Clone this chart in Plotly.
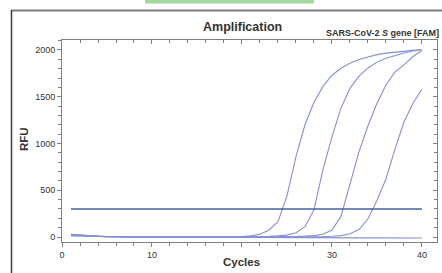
import plotly.graph_objects as go

cycles = list(range(1, 41))

curve_a = [28, 20, 13, 8, 5, 3, 2, 1, 0, -1, -2, -2, -3, -3, -2, -2, -1, 0, 2, 5,
           12, 30, 75, 165, 440, 860, 1200, 1440, 1610, 1730, 1805, 1858, 1898, 1928, 1950, 1966, 1978, 1988, 1996, 2005]
curve_b = [22, 16, 11, 7, 4, 2, 1, 0, -1, -2, -2, -3, -3, -2, -2, -1, -1, 0, 0, 1,
           2, 4, 7, 12, 20, 45, 110, 290, 720, 1070, 1380, 1590, 1720, 1808, 1870, 1912, 1944, 1968, 1988, 2005]
curve_c = [18, 13, 9, 6, 3, 1, 0, -1, -1, -2, -2, -2, -3, -3, -2, -2, -1, -1, 0, 0,
           1, 1, 2, 3, 4, 6, 9, 15, 30, 75, 220, 570, 910, 1190, 1430, 1625, 1765, 1840, 1930, 1995]
curve_d = [25, 18, 12, 7, 4, 2, 1, 0, -1, -2, -3, -3, -4, -4, -3, -3, -2, -2, -1, -1,
           0, 0, 1, 1, 2, 2, 3, 3, 5, 8, 15, 35, 80, 195, 390, 620, 940, 1230, 1430, 1580]
curve_neg = [12, 9, 6, 4, 2, 1, 0, -1, -2, -2, -3, -3, -3, -2, -2, -1, -1, -2, -2, -3,
             -3, -4, -4, -5, -5, -6, -6, -7, -7, -8, -8, -8, -9, -9, -9, -10, -10, -10, -10, -10]
threshold = 300

x_ticks = [0, 10, 20, 30, 40]
x_tick_text = ["0", "10", "", "30", "40"]
y_ticks = [0, 500, 1000, 1500, 2000]
y_tick_text = ["0", "500", "1000", "1500", "2000"]

title_text = "<b>Amplification</b>"
subtitle_text = "<b>SARS-CoV-2 <i>S</i> gene [FAM]</b>"
x_title = "<b>Cycles</b>"
y_title = "<b>RFU</b>"

# ---- geometry (pixels) ----
W, H = 442, 273
ML, MR, MT, MB = 62, 5, 40, 31
PW, PH = W - ML - MR, H - MT - MB


def px(x):
    return (x - ML) / PW


def py(y):
    return (H - MB - y) / PH


X_RANGE = [0, 41.67]
Y_RANGE = [-53.5, 2106.5]
x_minor = [v for v in range(0, 42, 2) if v % 10]
y_minor = [v for v in range(0, 2101, 100) if v % 500]

curve_color = "#8690d6"
axis_color = "#808080"
font_family = "Liberation Sans, Arial, sans-serif"

fig = go.Figure()
for vals in [curve_neg, curve_d, curve_c, curve_b, curve_a]:
    fig.add_trace(go.Scatter(x=cycles, y=vals, mode="lines",
                             line=dict(color=curve_color, width=1.1),
                             showlegend=False, hoverinfo="skip"))

fig.add_trace(go.Scatter(x=[cycles[0], cycles[-1]], y=[threshold, threshold],
                         mode="lines", line=dict(color="#45609f", width=1.5),
                         xaxis="x2", yaxis="y2", showlegend=False, hoverinfo="skip"))

tick_font = dict(family=font_family, size=9, color="#333333")

fig.update_layout(
    width=W, height=H,
    margin=dict(l=ML, r=MR, t=MT, b=MB, pad=0),
    paper_bgcolor="white", plot_bgcolor="white",
    font=dict(family=font_family),
    xaxis=dict(range=X_RANGE, tickmode="array", tickvals=x_ticks, ticktext=x_tick_text,
               ticks="outside", ticklen=4, tickcolor=axis_color, tickwidth=1,
               minor=dict(ticks="outside", tickmode="array", tickvals=x_minor, ticklen=3,
                          tickcolor=axis_color, tickwidth=1),
               showline=True, linecolor=axis_color, linewidth=1,
               showgrid=False, zeroline=False, tickfont=tick_font),
    yaxis=dict(range=Y_RANGE, tickmode="array", tickvals=y_ticks, ticktext=y_tick_text,
               ticks="outside", ticklen=4, tickcolor=axis_color, tickwidth=1,
               minor=dict(ticks="outside", tickmode="array", tickvals=y_minor, ticklen=3,
                          tickcolor=axis_color, tickwidth=1),
               showline=True, linecolor=axis_color, linewidth=1,
               showgrid=False, zeroline=False, tickfont=tick_font),
    xaxis2=dict(range=X_RANGE, overlaying="x", side="top", tickmode="array", tickvals=x_ticks,
                ticks="inside", ticklen=4, tickcolor=axis_color,
                minor=dict(ticks="inside", tickmode="array", tickvals=x_minor, ticklen=3,
                           tickcolor=axis_color, tickwidth=1),
                showline=True, linecolor=axis_color, linewidth=1,
                showticklabels=False, showgrid=False, zeroline=False),
    yaxis2=dict(range=Y_RANGE, overlaying="y", side="right", tickmode="array", tickvals=y_ticks,
                ticks="inside", ticklen=4, tickcolor=axis_color,
                minor=dict(ticks="inside", tickmode="array", tickvals=y_minor, ticklen=3,
                           tickcolor=axis_color, tickwidth=1),
                showline=True, linecolor=axis_color, linewidth=1,
                showticklabels=False, showgrid=False, zeroline=False),
    shapes=[
        dict(type="rect", xref="paper", yref="paper",
             x0=px(145), x1=px(314), y0=py(-2), y1=py(3.5),
             fillcolor="#a3d8a0", line=dict(width=0), layer="above"),
        dict(type="line", xref="paper", yref="paper",
             x0=px(11), x1=px(450), y0=py(10.5), y1=py(10.5),
             line=dict(color="#7c7c88", width=2)),
        dict(type="line", xref="paper", yref="paper",
             x0=px(11.5), x1=px(11.5), y0=py(10), y1=py(280),
             line=dict(color="#3a3a48", width=1.5)),
    ],
    annotations=[
        dict(text=title_text, xref="paper", yref="paper", x=px(242), y=py(27),
             xanchor="center", yanchor="middle", showarrow=False,
             font=dict(family=font_family, size=12.5, color="#333333")),
        dict(text=subtitle_text, xref="paper", yref="paper", x=px(441), y=py(33),
             xanchor="right", yanchor="middle", showarrow=False,
             font=dict(family=font_family, size=9, color="#333333")),
        dict(text=x_title, xref="paper", yref="paper", x=px(241), y=py(262),
             xanchor="center", yanchor="middle", showarrow=False,
             font=dict(family=font_family, size=11.5, color="#333333")),
        dict(text=y_title, xref="paper", yref="paper", x=px(24), y=py(139),
             xanchor="center", yanchor="middle", showarrow=False, textangle=-90,
             font=dict(family=font_family, size=11.5, color="#333333")),
    ],
)

fig.write_html("out.html", config={"displayModeBar": False},
               post_script="document.body.style.margin='0';document.body.style.overflow='hidden';")
